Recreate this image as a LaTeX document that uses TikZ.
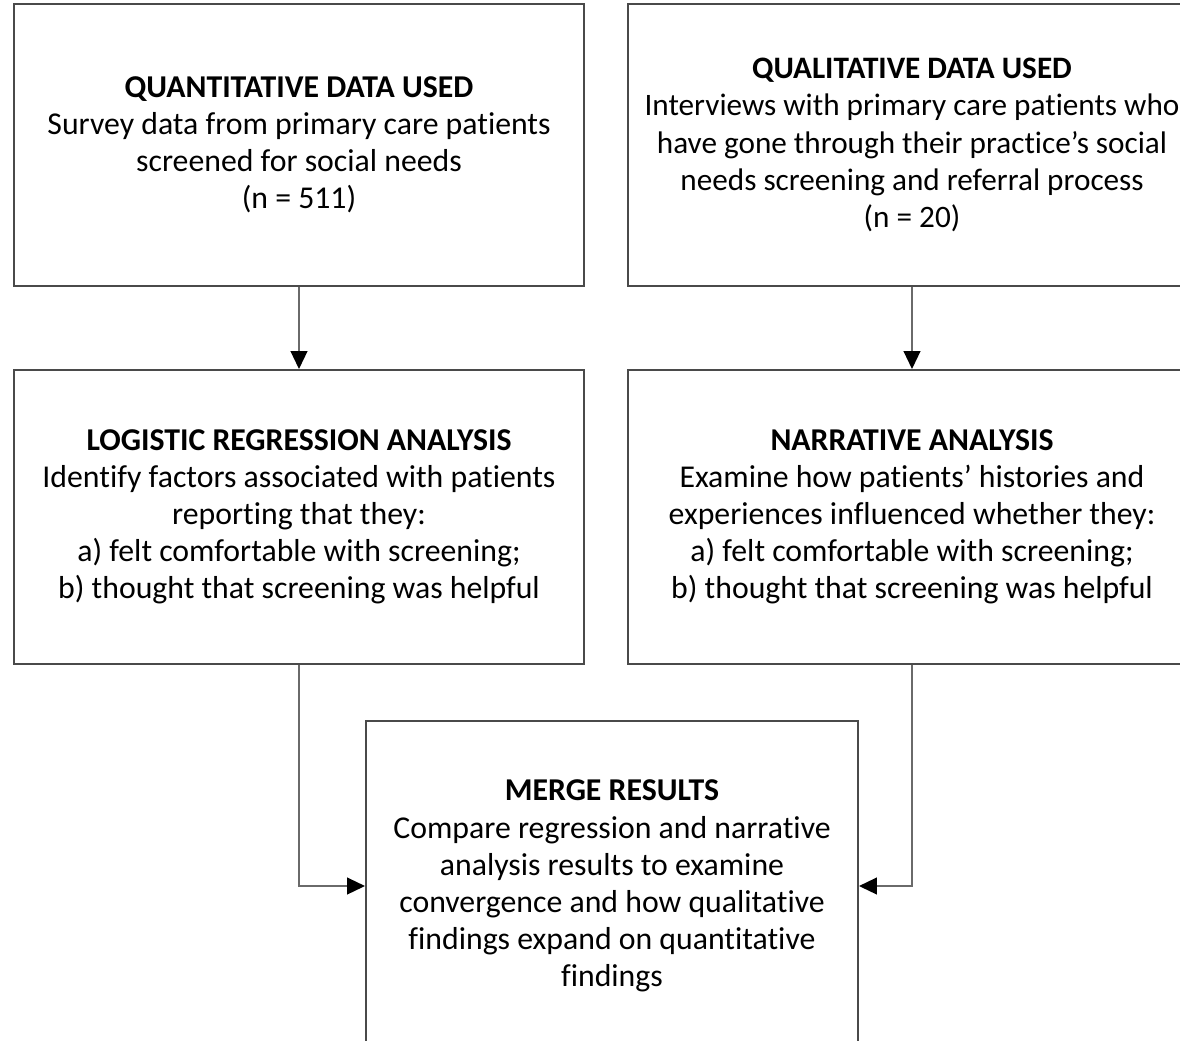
\documentclass[tikz,border=0pt]{standalone}
\usepackage{fontspec}
\setmainfont{Carlito}[Ligatures=NoCommon]
\usepackage{xcolor}
\usepackage{tikz}
\usetikzlibrary{arrows.meta, positioning, calc}

\definecolor{boxline}{HTML}{4A4A4A}
\definecolor{arrline}{HTML}{6A6A6A}

\begin{document}
\begin{tikzpicture}[
    stage/.style={draw=boxline, line width=1.4pt, rectangle, inner sep=0pt, align=center,
        font=\fontsize{22.6pt}{26.4pt}\selectfont},
    arr/.style={-{Triangle[length=0.45cm, width=0.42cm, color=black]}, draw=arrline, line width=1.3pt},
]
    \useasboundingbox (0,0) rectangle (29.5,-26);
    \clip (0,0) rectangle (29.5,-26);
    \fill[white] (0,0) rectangle (29.5,-26);

    \node[stage, minimum width=14.25cm, minimum height=7.05cm] (quant) at (7.475,-3.625)
        {\textbf{QUANTITATIVE DATA USED}\\Survey data from primary care patients\\screened for social needs\\(n = 511)};
    \node[stage, minimum width=14.2cm, minimum height=7.05cm, font=\fontsize{22.2pt}{26.4pt}\selectfont] (qual) at (22.8,-3.625)
        {\textbf{QUALITATIVE DATA USED}\\Interviews with primary care patients who\\have gone through their practice’s social\\needs screening and referral process\\(n = 20)};

    \node[stage, minimum width=14.25cm, minimum height=7.35cm] (logit) at (7.475,-12.925)
        {\textbf{LOGISTIC REGRESSION ANALYSIS}\\Identify factors associated with patients\\reporting that they:\\a) felt comfortable with screening;\\b) thought that screening was helpful};
    \node[stage, minimum width=14.2cm, minimum height=7.35cm] (narr) at (22.8,-12.925)
        {\textbf{NARRATIVE ANALYSIS}\\Examine how patients’ histories and\\experiences influenced whether they:\\a) felt comfortable with screening;\\b) thought that screening was helpful};

    \node[stage, minimum width=12.3cm, minimum height=8.25cm] (merge) at (15.3,-22.15)
        {\textbf{MERGE RESULTS}\\Compare regression and narrative\\analysis results to examine\\convergence and how qualitative\\findings expand on quantitative\\findings};

    \draw[arr] (quant) -- (logit);
    \draw[arr] (qual) -- (narr);
    \draw[arr] (logit.south) |- (merge.west);
    \draw[arr] (narr.south) |- (merge.east);
\end{tikzpicture}
\end{document}
